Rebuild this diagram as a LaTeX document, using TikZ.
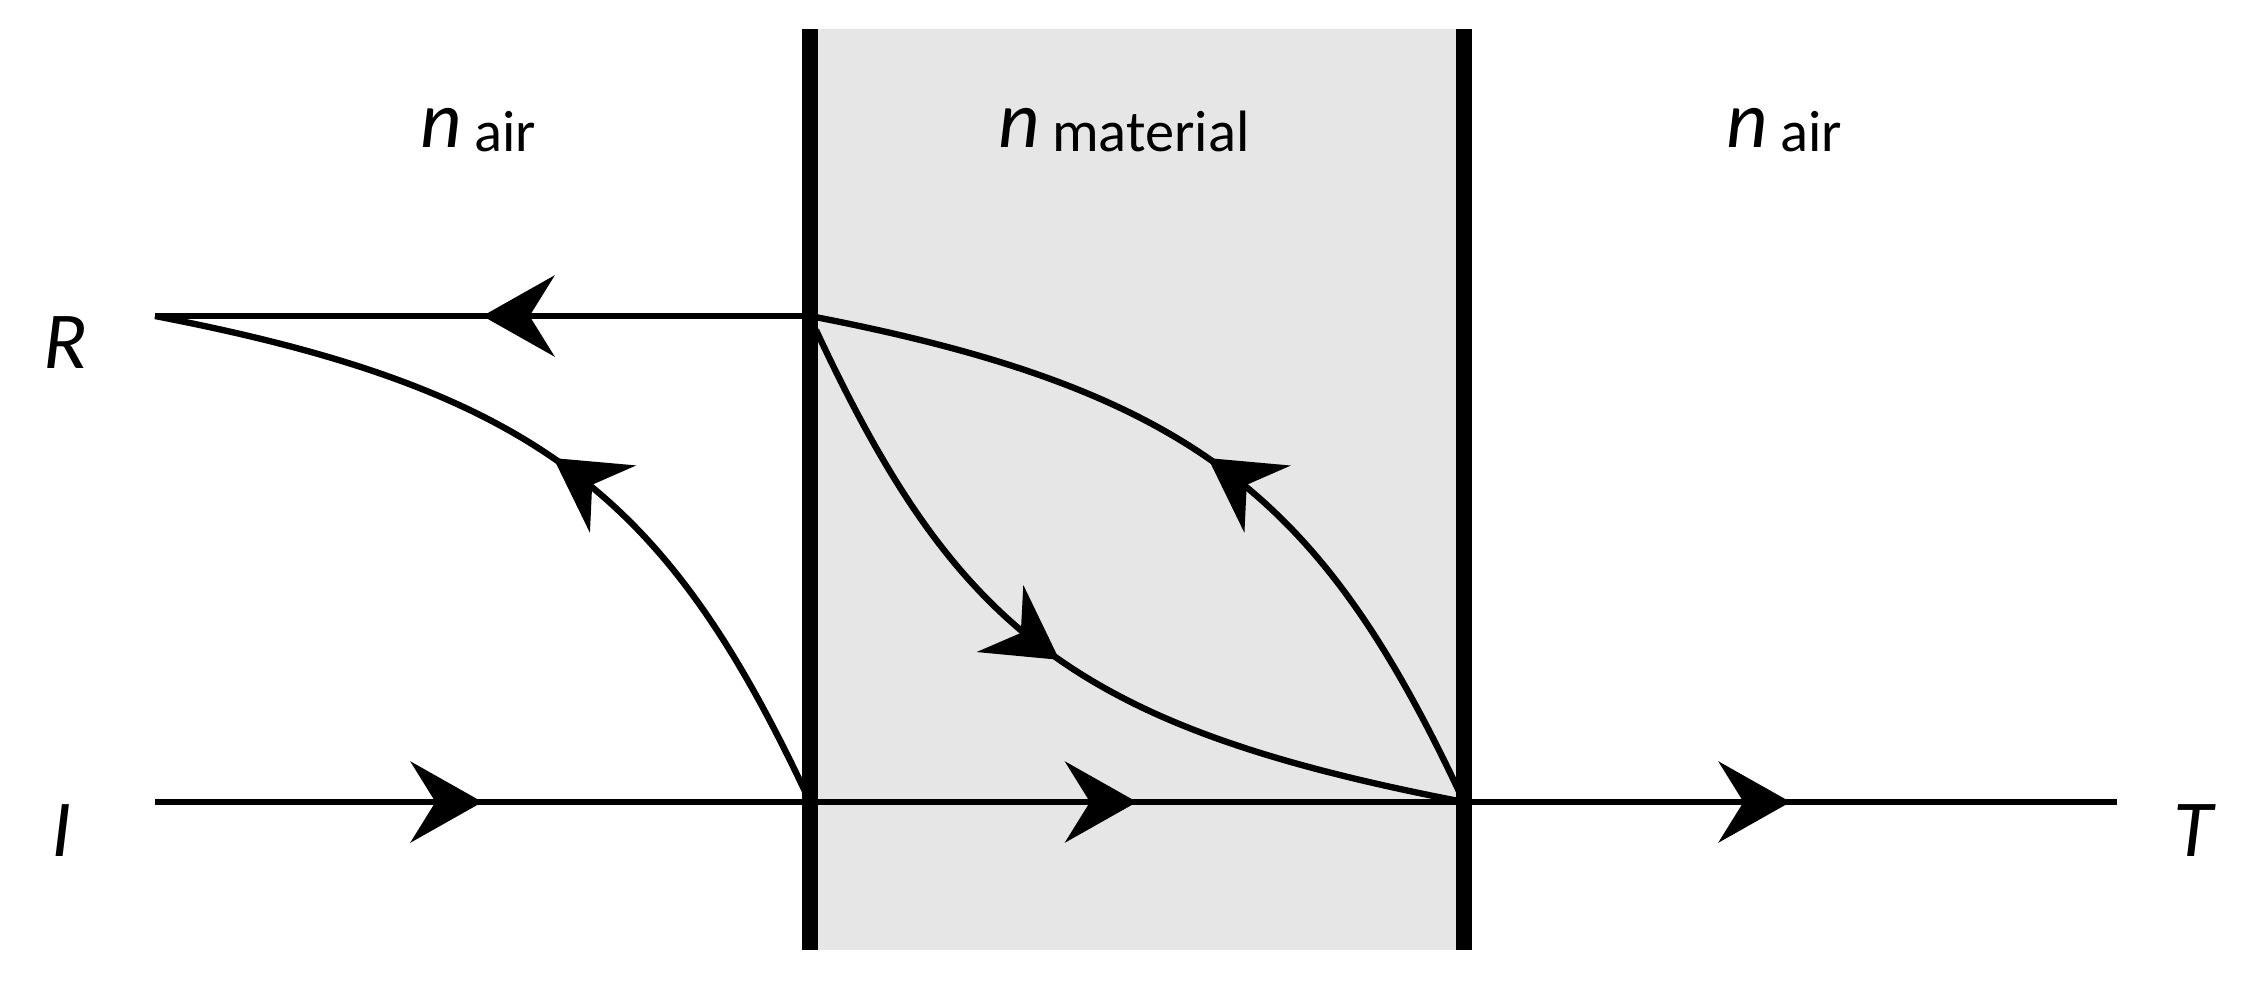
\documentclass[tikz,border=0pt]{standalone}
\usepackage{fontspec}
\setmainfont{Carlito}
\usetikzlibrary{arrows.meta,decorations.markings}
\definecolor{matgray}{RGB}{230,230,230}
\newcommand\nlabel[1]{{\fontsize{23}{23}\selectfont\itshape n}\hspace{0.12cm}{\fontsize{16.6}{17}\selectfont\raisebox{-0.04cm}{#1}}}
\tikzset{
  ray/.style={line width=1.8pt},
  bar/.style={line width=0.16cm},
  midarrow/.style={postaction={decorate},
    decoration={markings, mark=at position #1 with {\arrow{Stealth[length=7.2mm,width=8.1mm,inset=2.5mm]}}}},
  midarrow/.default=0.5,
  lbl/.style={inner sep=0pt, font=\fontsize{23}{23}\selectfont\itshape, anchor=base},
  nlbl/.style={inner sep=0pt, anchor=base west},
}
\begin{document}
\begin{tikzpicture}[x=0.01cm,y=-0.01cm]
\useasboundingbox (0,0) rectangle (2255,993);
% coordinates
\coordinate (Gt) at (810,29);
\coordinate (Gb) at (1464,950);
\coordinate (Lt) at (810,29);
\coordinate (Lb) at (810,950);
\coordinate (Rt) at (1464,29);
\coordinate (Rbt) at (1464,950);
\coordinate (Rl) at (155,316);
\coordinate (Rb) at (810,316);
\coordinate (Il) at (155,802);
\coordinate (Ib1) at (810,802);
\coordinate (Ib2) at (1464,802);
\coordinate (Ir) at (2117,802);
\coordinate (Bs) at (816,330);
% material
\fill[matgray] (Gt) rectangle (Gb);
% rays
\draw[ray,midarrow] (Rb) -- (Rl);
\draw[ray,midarrow] (Il) -- (Ib1);
\draw[ray,midarrow] (Ib1) -- (Ib2);
\draw[ray,midarrow] (Ib2) -- (Ir);
\draw[ray,midarrow=0.505] (Ib1) .. controls +(-140,-300) and +(390,75) .. (Rl);
\draw[ray,midarrow=0.505] (Ib2) .. controls +(-140,-300) and +(390,75) .. (Rb);
\draw[ray,midarrow=0.49] (Bs) .. controls +(140,300) and +(-390,-75) .. (Ib2);
% bars
\draw[bar] (Lt) -- (Lb);
\draw[bar] (Rt) -- (Rbt);
% labels
\node[nlbl] (nair1) at (420,147) {\nlabel{air}};
\node[nlbl] (nmat) at (998,147) {\nlabel{material}};
\node[nlbl] (nair2) at (1726,147) {\nlabel{air}};
\node[lbl] (R) at (65,368) {R};
\node[lbl] (I) at (62,856) {I};
\node[lbl] (T) at (2193,856) {T};
\end{tikzpicture}
\end{document}
